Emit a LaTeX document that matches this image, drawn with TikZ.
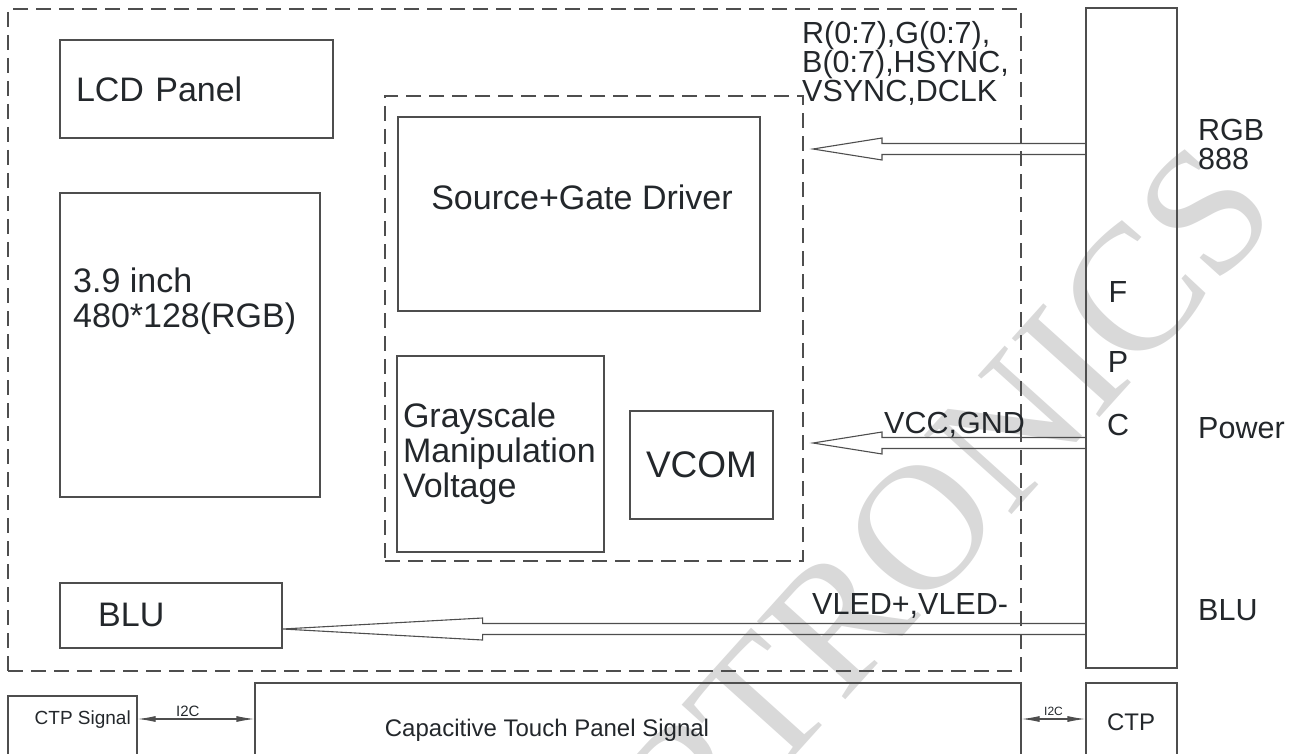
\documentclass[tikz,border=0pt]{standalone}
\usepackage{fontspec}
\setmainfont{Liberation Sans}
\newfontfamily\wmfont{Liberation Serif}
\usetikzlibrary{arrows.meta,calc}
\definecolor{ink}{HTML}{23272B}
\definecolor{linegray}{HTML}{4E4E4E}

\tikzset{
  box/.style={draw=linegray, line width=1.1pt, inner sep=0pt},
  dashbox/.style={box, dash pattern=on 15pt off 8pt},
  big/.style={font=\fontsize{34}{35}\selectfont, text=ink, inner sep=0pt},
  sig/.style={font=\fontsize{30.5}{29}\selectfont, text=ink, inner sep=0pt},
  mid/.style={font=\fontsize{24}{26}\selectfont, text=ink, inner sep=0pt},
  line/.style={draw=linegray, line width=1.1pt},
  i2c/.style={line, {Latex[length=18pt,width=6pt]}-{Latex[length=18pt,width=6pt]}},
  wmark/.style={font=\wmfont\fontsize{180}{180}\selectfont, text=black!15, inner sep=0pt}
}

\begin{document}
\begin{tikzpicture}[x=1pt,y=-1pt]
  \useasboundingbox (0,0) rectangle (1305,754);
  \clip (0,0) rectangle (1305,754);
  % watermark
  \node[wmark, rotate=48] (wm) at (948,498) {PTRONICS};

  % module and driver outlines
  \node[dashbox, minimum width=1013pt, minimum height=662pt] (module) at (514.5,340) {};
  \node[dashbox, minimum width=418pt, minimum height=465pt] (drv) at (594,328.5) {};

  % panel blocks
  \node[box, big, minimum width=273pt, minimum height=98pt, text width=241pt, inner xsep=16pt, align=left] (lcd) at (196.5,89) {LCD Panel};
  \node[box, minimum width=260pt, minimum height=304pt] (res) at (190,345) {};
  \node[big, anchor=north west, align=left] (restxt) at (73,268) {3.9 inch\\480*128(RGB)};

  % driver blocks
  \node[box, minimum width=362pt, minimum height=194pt] (sgd) at (579,214) {};
  \node[big] (sgdtxt) at (582,197) {Source+Gate Driver};
  \node[box, big, minimum width=207pt, minimum height=196pt, text width=195pt, inner xsep=6pt, align=left] (gsv) at (500.5,454) {Grayscale\\Manipulation\\Voltage};
  \node[box, big, font=\fontsize{37}{40}\selectfont, minimum width=143pt, minimum height=108pt] (vcom) at (701.5,465) {VCOM};

  % backlight
  \node[box, minimum width=222pt, minimum height=65pt] (blu) at (171,615.5) {};
  \node[big, anchor=west] (blutxt) at (98,615) {BLU};

  % FPC
  \node[box, minimum width=91pt, minimum height=660pt] (fpc) at (1131.5,338) {};
  \foreach \ch/\yy in {F/292, P/362, C/425}
    \node[sig] (fpc\ch) at (1118,\yy) {\ch};
  \node[sig, anchor=west, align=left] (rgb) at (1198,145) {RGB\\888};
  \node[sig, anchor=west] (pwr) at (1198,428) {Power};
  \node[sig, anchor=west] (blulbl) at (1198,610) {BLU};

  % signal labels
  \node[sig, anchor=north west, align=left] (rgbsig) at (802,21) {R(0:7),G(0:7),\\B(0:7),HSYNC,\\VSYNC,DCLK};
  \node[sig, anchor=base west] (pwrsig) at (884,433) {VCC,GND};
  \node[sig, anchor=base west] (bluSig) at (812,614) {VLED+,VLED-};

  % hollow arrows from FPC
  \coordinate (rgbtip) at (813,149);
  \coordinate (pwrtip) at (813,443);
  \coordinate (bltip) at ([yshift=-13.5pt]blu.east);
  \foreach \tip/\len in {rgbtip/69, pwrtip/69, bltip/200}
    \draw[line] ($(\tip -| fpc.west)+(0,-5.5)$) -- ($(\tip)+(\len,-5.5)$) -- ++(0,-5.5)
      -- (\tip) -- ($(\tip)+(\len,11)$) -- ++(0,-5.5) -- ($(\tip -| fpc.west)+(0,5.5)$);

  % touch panel row
  \node[box, minimum width=129pt, minimum height=100pt] (ctpsig) at (72.5,746) {};
  \node[anchor=base east, font=\fontsize{19}{20}\selectfont, text=ink, inner sep=0pt] (ctpsigtxt) at (131,724) {CTP Signal};
  \node[box, minimum width=766pt, minimum height=110pt] (cap) at (638,738) {};
  \node[mid, anchor=base] (captxt) at (547,736) {Capacitive Touch Panel Signal};
  \node[box, minimum width=91pt, minimum height=110pt] (ctp) at (1131.5,738) {};
  \node[mid, anchor=base] (ctptxt) at (1131,730) {CTP};

  \draw[i2c] ([yshift=27pt]ctpsig.east) coordinate (busl) -- (busl -| cap.west)
    node[pos=0.43, above=2pt, font=\fontsize{15}{16}\selectfont, text=ink, inner sep=0pt] (i2cl) {I2C};
  \draw[i2c] ([yshift=19pt]cap.east) coordinate (busr) -- (busr -| ctp.west)
    node[midway, above=3pt, font=\fontsize{12}{13}\selectfont, text=ink, inner sep=0pt] (i2cr) {I2C};
\end{tikzpicture}
\end{document}
